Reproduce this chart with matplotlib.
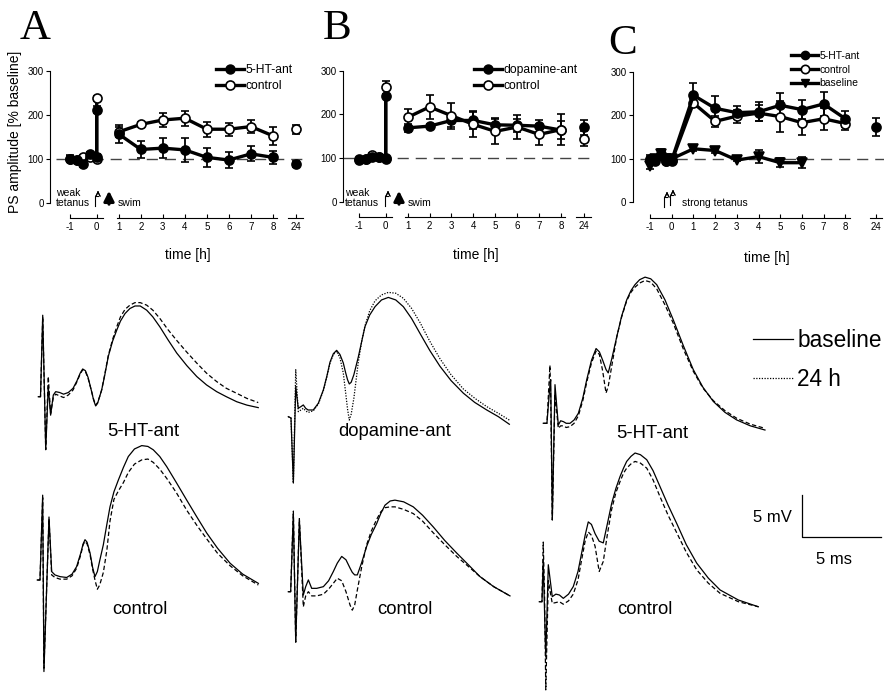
import numpy as np
import matplotlib.pyplot as plt
from matplotlib.lines import Line2D

plt.rcParams['font.family'] = ['Liberation Sans', 'DejaVu Sans']

W, H = 886, 698
fig = plt.figure(figsize=(W / 100, H / 100), dpi=100)

# ---------------- time course data (PS amplitude, % baseline) ----------------
pre_t = [-1, -0.75, -0.5, -0.25, 0]
post_t = [1, 2, 3, 4, 5, 6, 7, 8]
tick_labels = ['-1', '0', '1', '2', '3', '4', '5', '6', '7', '8', '24']

# A: 5-HT antagonist vs control, weak tetanus + swim
a_ant_pre = [100, 97, 88, 110, 104]
a_ant_pre_err = [8, 6, 6, 6, 6]
a_ant_tet, a_ant_tet_err = 211, 8
a_ant_post = [156, 121, 124, 120, 103, 97, 111, 103]
a_ant_post_err = [20, 20, 22, 27, 22, 18, 17, 15]
a_ant_24, a_ant_24_err = 88, 7

a_ctl_pre = [100, 96, 103, 105, 100]
a_ctl_pre_err = [6, 5, 5, 5, 5]
a_ctl_tet, a_ctl_tet_err = 237, 6
a_ctl_post = [161, 178, 188, 192, 167, 167, 173, 152]
a_ctl_post_err = [12, 6, 15, 17, 17, 15, 15, 20]
a_ctl_24, a_ctl_24_err = 167, 10

# B: dopamine antagonist vs control, weak tetanus + swim
b_ant_pre = [97, 98, 103, 102, 100]
b_ant_pre_err = [4, 4, 4, 4, 4]
b_ant_tet, b_ant_tet_err = 242, 5
b_ant_post = [169, 173, 186, 186, 176, 175, 173, 164]
b_ant_post_err = [10, 5, 15, 20, 15, 15, 13, 20]
b_ant_24, b_ant_24_err = 170, 17

b_ctl_pre = [96, 97, 108, 102, 98]
b_ctl_pre_err = [4, 4, 4, 4, 4]
b_ctl_tet, b_ctl_tet_err = 262, 15
b_ctl_post = [193, 217, 197, 177, 161, 171, 154, 165]
b_ctl_post_err = [20, 28, 30, 30, 28, 27, 25, 35]
b_ctl_24, b_ctl_24_err = 144, 17

# C: strong tetanus
c_ant_pre = [100, 95, 108, 95, 97]
c_ant_pre_err = [8, 8, 10, 8, 8]
c_ant_post = [246, 216, 206, 208, 223, 213, 226, 192]
c_ant_post_err = [28, 28, 15, 22, 28, 22, 28, 18]
c_ant_24, c_ant_24_err = 173, 20

c_ctl_pre = [97, 100, 110, 95, 95]
c_ctl_pre_err = [8, 8, 12, 8, 8]
c_ctl_post = [228, 186, 198, 205, 197, 183, 192, 181]
c_ctl_post_err = [10, 12, 15, 18, 35, 28, 25, 15]

c_base_pre = [83, 100, 110, 100, 100]
c_base_pre_err = [6, 6, 6, 6, 6]
c_base_post = [123, 119, 97, 105, 91, 91]
c_base_post_err = [5, 5, 3, 15, 10, 12]

# ---------------- field potential traces (time ms, voltage mV) ----------------
a_top_t = [0, 0.14, 0.28, 0.47, 0.63, 0.78, 0.95, 1.1, 1.35, 1.6, 1.9, 2.2, 2.45, 2.65, 2.81,
           2.98, 3.15, 3.35, 3.5, 3.63, 3.75, 3.88, 4.01, 4.2, 4.43, 4.7, 4.96, 5.2, 5.49, 5.8,
           6.12, 6.45, 6.86, 7.25, 7.7, 8.2, 8.76, 9.4, 10.03, 10.65, 11.29, 11.9, 12.56, 13.2, 13.92]
a_top_base = [0, 0, 9.7, -6.3, 1.2, -2.2, 0.2, 0.6, 0.5, 0.3, 0.5, 1.0, 1.9, 2.8, 3.3,
              3.1, 2.3, 0.8, -0.4, -1.1, -0.8, 0.0, 0.8, 2.5, 4.8, 6.6, 7.9, 9.0, 9.9, 10.5,
              10.8, 10.8, 10.3, 9.5, 8.3, 6.8, 5.2, 3.7, 2.4, 1.4, 0.6, 0.0, -0.6, -1.0, -1.3]
a_top_24 = [0, 0, 9.5, -6.3, 2.4, -2.0, -0.1, 0.3, 0.1, -0.1, 0.2, 0.8, 1.8, 2.7, 3.2,
            3.0, 2.2, 0.8, -0.3, -1.0, -0.7, 0.0, 0.8, 2.6, 4.9, 6.8, 8.3, 9.5, 10.4, 10.9,
            11.2, 11.2, 10.9, 10.3, 9.3, 8.0, 6.7, 5.3, 4.0, 2.8, 1.8, 1.0, 0.4, -0.2, -0.7]

a_bot_t = [0, 0.17, 0.34, 0.42, 0.74, 0.91, 1.12, 1.44, 1.86, 2.2, 2.49, 2.75, 2.9, 3.02,
           3.15, 3.34, 3.5, 3.65, 3.8, 3.95, 4.18, 4.4, 4.6, 4.85, 5.13, 5.45, 5.76, 6.15,
           6.61, 7.0, 7.34, 7.75, 8.19, 8.8, 9.46, 10.1, 10.72, 11.4, 12.2, 13.0, 13.99]
a_bot_base = [0, 0, 10.1, -10.9, 7.5, 1.0, 0.6, 0.4, 0.3, 0.7, 1.6, 3.2, 4.3, 4.8,
              4.5, 3.2, 1.5, 0.4, 1.0, 2.3, 4.2, 6.6, 8.7, 10.5, 11.9, 13.4, 14.7, 15.6,
              16.0, 15.9, 15.5, 14.7, 13.5, 11.6, 9.5, 7.5, 5.6, 3.8, 2.0, 0.7, -0.4]
a_bot_24 = [0, 0, 9.8, -10.5, 7.3, 0.6, 0.3, 0.1, 0.1, 0.5, 1.4, 3.0, 4.2, 4.6,
            4.3, 3.0, 1.3, 0.0, -1.1, -0.6, 0.9, 3.5, 7.0, 9.6, 10.6, 11.6, 12.8, 13.8,
            14.3, 14.4, 14.0, 13.2, 12.1, 10.4, 8.3, 6.5, 4.9, 3.2, 1.7, 0.5, -0.6]

b_top_t = [0, 0.17, 0.32, 0.47, 0.63, 0.8, 0.95, 1.1, 1.25, 1.58, 1.9, 2.22, 2.45, 2.64,
           2.85, 3.06, 3.27, 3.48, 3.62, 3.75, 3.86, 3.98, 4.15, 4.43, 4.65, 4.85, 5.15, 5.49,
           5.9, 6.33, 6.8, 7.28, 7.8, 8.34, 8.95, 9.6, 10.3, 11.08, 11.8, 12.56, 13.3, 13.99]
b_top_base = [0, -0.15, -7.9, 3.6, 1.0, 1.2, 1.4, 1.0, 0.8, 0.8, 1.6, 3.2, 4.9, 6.5,
              7.5, 7.9, 7.4, 6.4, 5.3, 4.4, 3.9, 4.1, 5.0, 7.1, 9.0, 10.7, 12.1, 13.1,
              13.9, 14.2, 13.9, 13.1, 11.7, 9.9, 7.9, 6.0, 4.3, 2.8, 1.7, 0.8, 0.0, -0.9]
b_top_24 = [0, -0.15, -7.9, 5.6, 0.6, 0.8, 1.0, 0.7, 0.5, 0.7, 1.5, 3.1, 4.8, 6.4,
            7.4, 7.8, 7.0, 5.2, 3.0, 0.9, -0.4, 0.3, 2.2, 6.5, 9.0, 10.8, 12.6, 13.8,
            14.5, 14.8, 14.7, 14.1, 12.9, 11.2, 9.0, 6.9, 5.0, 3.3, 2.2, 1.2, 0.4, -0.4]

b_bot_t = [0, 0.15, 0.32, 0.47, 0.70, 0.95, 1.1, 1.27, 1.48, 1.8, 2.22, 2.55, 2.85, 3.1,
           3.38, 3.65, 3.91, 4.05, 4.2, 4.37, 4.65, 4.96, 5.25, 5.59, 5.85, 6.12, 6.45, 6.75,
           7.3, 7.91, 8.5, 9.18, 9.9, 10.66, 11.4, 12.13, 13.0, 14.03]
b_bot_base = [0, 0, 9.3, -6.0, 8.5, -0.4, 0.6, 1.4, 0.4, 0.4, 0.6, 1.3, 2.4, 3.4,
              4.2, 3.8, 2.8, 2.3, 2.0, 2.0, 3.5, 5.4, 6.8, 8.1, 9.3, 10.3, 10.8, 10.9,
              10.7, 10.1, 9.1, 7.7, 6.1, 4.6, 3.2, 1.8, 0.6, -0.5]
b_bot_24 = [0, 0, 9.6, -6.0, 8.7, -1.8, -0.5, 0.0, -0.5, -0.5, -0.3, 0.3, 1.0, 1.6,
            1.3, 0.0, -1.6, -2.2, -1.6, 0.2, 3.0, 5.6, 7.2, 8.6, 9.5, 10.0, 10.1, 10.1,
            9.8, 9.3, 8.4, 7.0, 5.6, 4.2, 3.0, 1.8, 0.6, -0.5]

c_top_t = [0, 0.23, 0.42, 0.47, 0.57, 0.74, 0.95, 1.1, 1.27, 1.45, 1.69, 1.95, 2.22, 2.5,
           2.75, 3.05, 3.34, 3.55, 3.76, 3.97, 4.11, 4.35, 4.65, 4.95, 5.28, 5.55, 5.80, 6.1,
           6.44, 6.8, 7.18, 7.7, 8.23, 8.85, 9.49, 10.1, 10.76, 11.5, 12.24, 13.1, 14.03]
c_top_base = [0, 0, 4.5, 5.2, -11.5, 4.6, -0.2, 0.3, 0.2, 0.0, 0.0, 0.4, 1.2, 3.0,
              5.2, 7.5, 8.9, 8.5, 7.5, 6.4, 6.0, 7.8, 10.3, 12.7, 14.7, 15.8, 16.5, 17.1,
              17.4, 17.2, 16.5, 14.7, 12.3, 9.3, 6.4, 4.3, 2.6, 1.3, 0.4, -0.3, -0.8]
c_top_24 = [0, 0, 6.9, 3.0, -11.5, 3.5, -0.6, -0.3, -0.3, -0.5, -0.4, 0.0, 0.9, 2.7,
            4.9, 7.2, 8.6, 8.2, 6.2, 3.6, 4.4, 7.0, 10.3, 12.6, 14.6, 15.6, 16.2, 16.7,
            17.0, 16.8, 16.0, 14.1, 11.9, 8.9, 6.2, 4.2, 2.7, 1.5, 0.6, -0.1, -0.6]

c_bot_t = [0, 0.17, 0.25, 0.33, 0.41, 0.57, 0.82, 1.05, 1.27, 1.52, 1.85, 2.15, 2.45, 2.68,
           2.9, 3.10, 3.3, 3.53, 3.79, 4.05, 4.3, 4.58, 4.85, 5.11, 5.33, 5.53, 5.8, 6.06,
           6.4, 6.80, 7.2, 7.64, 8.15, 8.70, 9.3, 9.96, 10.7, 11.44, 12.6, 13.86]
c_bot_base = [0, 0, 5.0, -1.0, -6.6, 4.4, 0.6, 0.9, 0.8, 0.4, 0.9, 1.8, 3.6, 5.8,
              7.9, 9.5, 9.2, 8.1, 7.2, 7.0, 9.2, 11.7, 13.5, 14.9, 15.9, 16.7, 17.3, 17.7,
              17.5, 16.9, 15.6, 13.7, 11.5, 9.3, 6.8, 4.6, 2.8, 1.4, 0.2, -0.6]
c_bot_24 = [0, 0, 7.1, 1.0, -10.5, 2.5, -0.2, -0.1, 0.0, -0.3, 0.1, 0.9, 2.6, 5.0,
            7.2, 8.3, 7.9, 6.6, 3.6, 4.8, 7.9, 11.0, 13.0, 14.3, 15.3, 15.9, 16.4, 16.7,
            16.5, 15.9, 14.5, 12.5, 10.3, 8.2, 5.9, 3.8, 2.2, 1.0, 0.0, -0.6]


def rect(x0, y0, x1, y1):
    # pixel box (top-left origin) -> figure fraction
    return [x0 / W, 1 - y1 / H, (x1 - x0) / W, (y1 - y0) / H]


def fpt(x, y):
    return (x / W, 1 - y / H)


def course_ax(left, right, top, bottom, xlim, ylim, ticks, segs, axis_y, dash_from):
    ax = fig.add_axes(rect(left, top, right, bottom))
    ax.set_xlim(*xlim)
    ax.set_ylim(*ylim)
    ax.patch.set_visible(False)
    ax.spines['top'].set_visible(False)
    ax.spines['right'].set_visible(False)
    ax.spines['left'].set_bounds(0, 300)
    ax.spines['left'].set_linewidth(0.8)
    ax.set_yticks([0, 100, 200, 300])
    ax.tick_params(axis='y', direction='out', length=3, width=0.8, labelsize=7, pad=1.5)
    ax.spines['bottom'].set_position(('data', axis_y))
    ax.spines['bottom'].set_visible(False)
    ax.set_xticks(ticks, tick_labels)
    ax.tick_params(axis='x', direction='in', length=3, width=0.8, labelsize=7, pad=3)
    for a, b in segs:
        ax.plot([a, b], [axis_y, axis_y], color='k', lw=0.8, clip_on=False)
    ax.plot([dash_from, xlim[1]], [100, 100], color='#444444', lw=1.0,
            dashes=(8, 5), zorder=1)
    return ax


def series(ax, xs, ys, errs, marker, mfc):
    ax.errorbar(xs, ys, yerr=errs, color='k', lw=2.4, marker=marker, ms=6.5,
                mfc=mfc, mec='k', mew=1.2, ecolor='k', elinewidth=1.3,
                capsize=3.2, capthick=1.3, clip_on=False, zorder=3)


def pts(pre, pre_s):
    return [t * pre_s for t in pre]


def legend(ax, handles, labels, x, y, fs, hl):
    ax.legend(handles=handles, labels=labels, loc='upper left', bbox_to_anchor=fpt(x, y),
              bbox_transform=fig.transFigure, frameon=False, fontsize=fs, handlelength=hl,
              handletextpad=0.15, borderpad=0, borderaxespad=0, labelspacing=0.35)


def xlabel(ax, x, y):
    ax.set_xlabel('time [h]', fontsize=10)
    ax.xaxis.set_label_coords(*fpt(x, y), transform=fig.transFigure)


filled = Line2D([], [], color='k', lw=2.4, marker='o', ms=6.5, mfc='k')
opened = Line2D([], [], color='k', lw=2.4, marker='o', ms=6.5, mfc='white', mew=1.2)

# ---- panel A ----
sA = 1.21
axA = course_ax(50, 306, 57.5, 222.5, (-2.12, 9.5), (-45, 330),
                [-1 * sA, 0] + post_t + [9.05], [(-1.21, 0.29), (0.91, 8.18), (8.68, 9.36)],
                -35.5, -1.85)
series(axA, pts(pre_t, sA) + [0], a_ctl_pre + [a_ctl_tet], a_ctl_pre_err + [a_ctl_tet_err], 'o', 'white')
series(axA, pts(pre_t, sA) + [0], a_ant_pre + [a_ant_tet], a_ant_pre_err + [a_ant_tet_err], 'o', 'k')
series(axA, post_t, a_ctl_post, a_ctl_post_err, 'o', 'white')
series(axA, post_t, a_ant_post, a_ant_post_err, 'o', 'k')
series(axA, [9.05], [a_ctl_24], [a_ctl_24_err], 'o', 'white')
series(axA, [9.05], [a_ant_24], [a_ant_24_err], 'o', 'k')
axA.set_ylabel('PS amplitude [% baseline]', fontsize=10)
axA.yaxis.set_label_coords(*fpt(22, 132), transform=fig.transFigure)
xlabel(axA, 188, 248)
legend(axA, [filled, opened], ['5-HT-ant', 'control'], 216, 64, 8.7, 2.3)

# ---- panel B ----
sB = 1.23
axB = course_ax(343, 593.8, 57.6, 221.3, (-1.95, 9.5), (-45, 330),
                [-1 * sB, 0] + post_t + [9.03], [(-1.23, 0.3), (0.9, 8.2), (8.7, 9.35)],
                -35.7, -1.95)
series(axB, pts(pre_t, sB) + [0], b_ctl_pre + [b_ctl_tet], b_ctl_pre_err + [b_ctl_tet_err], 'o', 'white')
series(axB, pts(pre_t, sB) + [0], b_ant_pre + [b_ant_tet], b_ant_pre_err + [b_ant_tet_err], 'o', 'k')
series(axB, post_t, b_ant_post, b_ant_post_err, 'o', 'k')
series(axB, post_t, b_ctl_post, b_ctl_post_err, 'o', 'white')
series(axB, [9.03], [b_ant_24], [b_ant_24_err], 'o', 'k')
series(axB, [9.03], [b_ctl_24], [b_ctl_24_err], 'o', 'white')
xlabel(axB, 476, 248)
legend(axB, [filled, opened], ['dopamine-ant', 'control'], 474, 64, 8.7, 2.3)

# ---- panel C ----
axC = course_ax(632.7, 884.4, 58.7, 221.9, (-1.8, 9.8), (-45, 330),
                [-1, 0] + post_t + [9.4], [(-1.0, 8.23), (9.14, 9.7)], -36.8, -1.45)
series(axC, pts(pre_t, 1) + post_t, c_ctl_pre + c_ctl_post, c_ctl_pre_err + c_ctl_post_err, 'o', 'white')
series(axC, pts(pre_t, 1) + post_t, c_ant_pre + c_ant_post, c_ant_pre_err + c_ant_post_err, 'o', 'k')
series(axC, pts(pre_t, 1) + post_t[:len(c_base_post)], c_base_pre + c_base_post,
       c_base_pre_err + c_base_post_err, 'v', 'k')
series(axC, [9.4], [c_ant_24], [c_ant_24_err], 'o', 'k')
xlabel(axC, 767, 251)
legend(axC, [Line2D([], [], color='k', lw=2.4, marker='o', ms=6, mfc='k'),
             Line2D([], [], color='k', lw=2.4, marker='o', ms=6, mfc='white', mew=1.2),
             Line2D([], [], color='k', lw=2.4, marker='v', ms=6, mfc='k')],
       ['5-HT-ant', 'control', 'baseline'], 791, 51, 7.5, 2.6)

# panel letters
for txt, x, y in [('A', 20, 39), ('B', 323, 39), ('C', 608, 54)]:
    fig.text(*fpt(x, y), txt, family='Liberation Serif', fontsize=31, va='baseline')

# stimulation annotations
fs = 7.5
for x in (56, 345):
    fig.text(*fpt(x, 193), 'weak', fontsize=fs, va='center')
    fig.text(*fpt(x, 203), 'tetanus', fontsize=fs, va='center')


def hook(x, y):
    fig.add_artist(Line2D([x / W, x / W, (x + 3) / W], [1 - (y + 10) / H, 1 - y / H, 1 - y / H],
                          color='k', lw=0.8))
    fig.add_artist(plt.annotate('', xy=fpt(x + 3, y - 8), xytext=fpt(x + 3, y),
                                xycoords='figure fraction',
                                arrowprops=dict(arrowstyle='->,head_width=0.15,head_length=0.3',
                                                lw=0.8, color='k')))


for x, xs in [(95, 109), (385, 399)]:
    hook(x, 196)
    plt.annotate('', xy=fpt(xs, 188), xytext=fpt(xs, 207), xycoords='figure fraction',
                 arrowprops=dict(arrowstyle='-|>,head_width=0.3,head_length=0.6',
                                 lw=2.2, color='k'))
    fig.text(*fpt(xs + 9, 203), 'swim', fontsize=fs, va='center')

hook(664, 197)
hook(670, 195)
fig.text(*fpt(682, 203), 'strong tetanus', fontsize=fs, va='center')

# ---------------- traces ----------------
MS_PX, MV_PX = 15.8, 8.4


def trace_ax(x0, y0):
    xl, xr, yb, yt = -0.5, 15.0, -14, 20
    ax = fig.add_axes(rect(x0 + xl * MS_PX, y0 - yt * MV_PX, x0 + xr * MS_PX, y0 - yb * MV_PX))
    ax.set_xlim(xl, xr)
    ax.set_ylim(yb, yt)
    ax.axis('off')
    return ax


def traces(x0, y0, t, v1, v2, style):
    ax = trace_ax(x0, y0)
    ax.plot(t, v1, color='k', lw=0.9, clip_on=False)
    ls = (0, (1, 1.2)) if style == 'dot' else (0, (3.5, 2))
    ax.plot(t, v2, color='k', lw=0.9, ls=ls, clip_on=False)
    return ax


traces(38.3, 396.7, a_top_t, a_top_base, a_top_24, 'dash')
traces(37.3, 580, a_bot_t, a_bot_base, a_bot_24, 'dash')
traces(288.3, 416.7, b_top_t, b_top_base, b_top_24, 'dot')
traces(288.3, 591.7, b_bot_t, b_bot_base, b_bot_24, 'dash')
traces(543.3, 423.3, c_top_t, c_top_base, c_top_24, 'dash')
traces(539.3, 601.7, c_bot_t, c_bot_base, c_bot_24, 'dash')

for txt, x, y in [('5-HT-ant', 143, 431), ('control', 140, 610), ('dopamine-ant', 395, 431),
                  ('control', 405, 610), ('5-HT-ant', 652, 433), ('control', 645, 610)]:
    fig.text(*fpt(x, y), txt, fontsize=13.3, ha='center', va='center')

# scale bar: 5 mV / 5 ms
sb = trace_ax(802, 537)
sb.plot([0, 0, 5], [5, 0, 0], color='k', lw=0.9)
fig.text(*fpt(772, 517), '5 mV', fontsize=12, ha='center', va='center')
fig.text(*fpt(834, 560), '5 ms', fontsize=12, ha='center', va='center')

fig.legend(handles=[Line2D([], [], color='k', lw=0.9),
                    Line2D([], [], color='k', lw=0.9, ls=(0, (1, 1.2)))],
           labels=['baseline', '24 h'], loc='upper left', bbox_to_anchor=fpt(753, 329),
           frameon=False, fontsize=16.3, handlelength=1.75, handletextpad=0.2,
           borderpad=0, borderaxespad=0, labelspacing=0.7)

fig.savefig('out.png', dpi=100)
